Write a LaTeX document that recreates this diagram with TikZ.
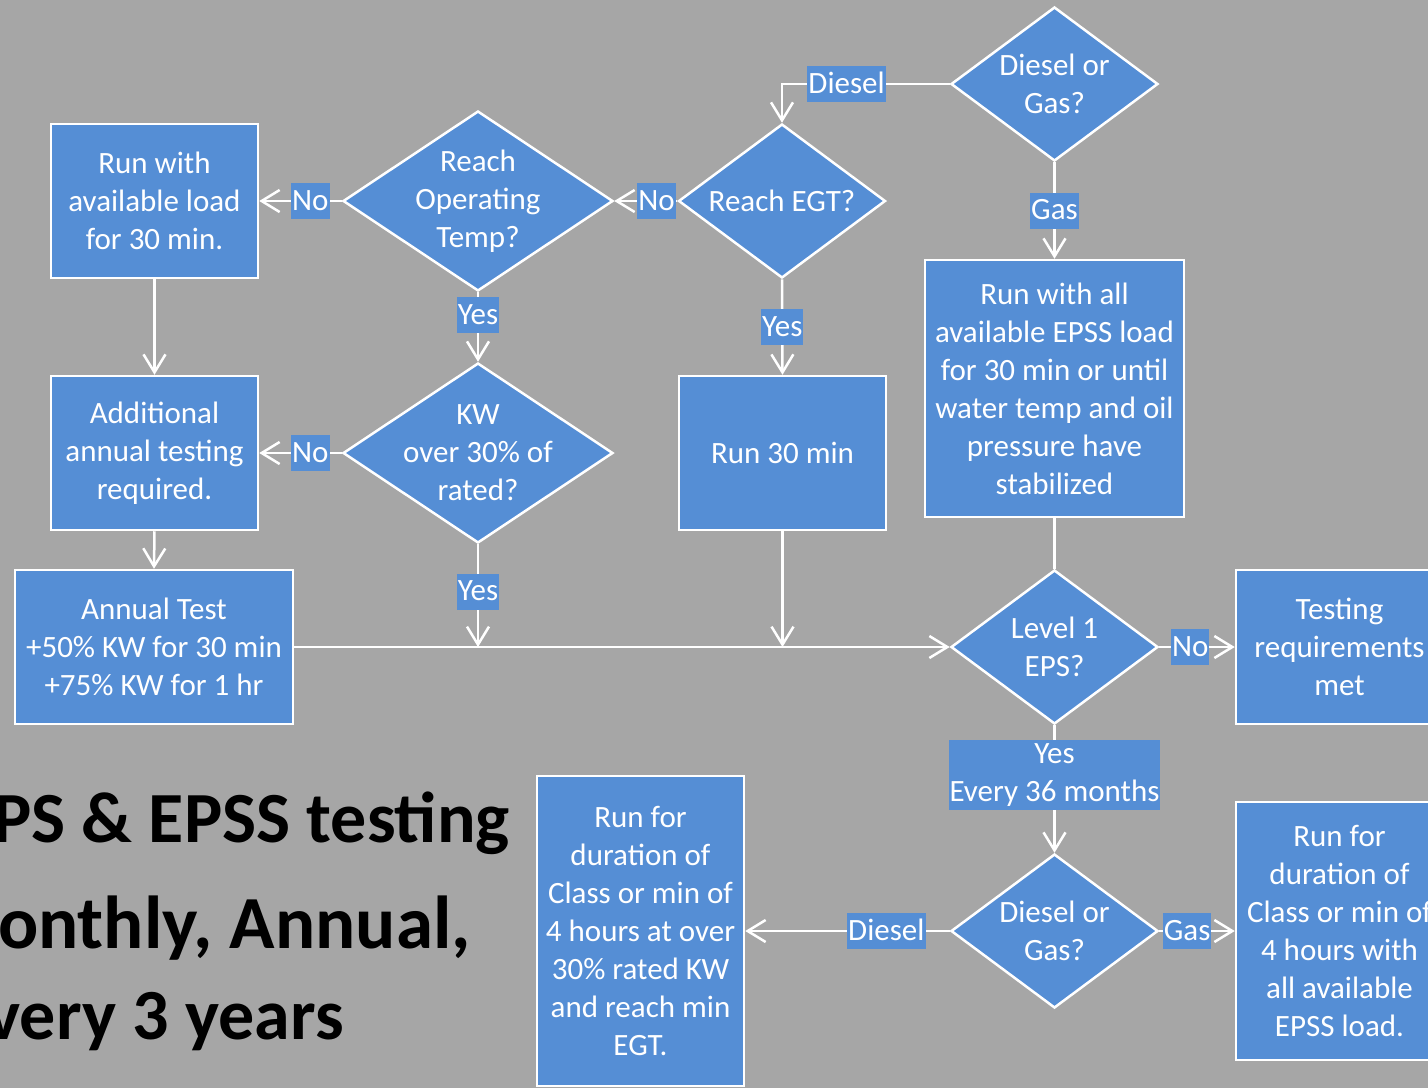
\documentclass[tikz,border=0pt]{standalone}
\usepackage{fontspec}
\setmainfont{Carlito}
\usepackage{xcolor}
\usepackage{tikz}
\usetikzlibrary{shapes.geometric,arrows.meta}
\definecolor{bggray}{HTML}{A6A6A6}
\definecolor{boxblue}{HTML}{558ED5}
\tikzset{
    txt/.style={text=white,align=center,font=\fontsize{31}{38}\selectfont},
    box/.style={txt,draw=white,line width=2.5pt,fill=boxblue,inner sep=0pt},
    dia/.style={diamond,draw=white,line width=2.5pt,fill=boxblue,inner sep=0pt},
    lab/.style={fill=boxblue,text=white,inner xsep=1pt,inner ysep=2pt,text height=25pt,text depth=7pt,font=\fontsize{31}{38}\selectfont},
    lab2/.style={txt,fill=boxblue,inner xsep=1pt,inner ysep=4pt},
    arr/.style={draw=white,line width=2.5pt,-{Straight Barb[length=18pt,width=22pt]}},
    plain/.style={draw=white,line width=2.5pt},
    title/.style={font=\fontsize{72}{86}\selectfont\bfseries,inner sep=0pt,anchor=base east}
}
\begin{document}
\begin{tikzpicture}[x=1pt,y=-1pt]
    \useasboundingbox (0,0) rectangle (1428,1088);
    \clip (0,0) rectangle (1428,1088);
    \fill[bggray] (0,0) rectangle (1428,1088);

    \node[box,minimum width=207,minimum height=154] (run1) at (154.5,201) {Run with\\available load\\for 30 min.};
    \node[dia,minimum width=270,minimum height=180,label={[txt]center:{Reach\\Operating\\Temp?}}] (rot) at (478,201) {};
    \node[dia,minimum width=207,minimum height=154,label={[txt]center:{Reach EGT?}}] (egt) at (782,201) {};
    \node[dia,minimum width=207,minimum height=154,label={[txt]center:{Diesel or\\Gas?}}] (dg1) at (1054.5,84) {};
    \node[box,minimum width=259,minimum height=257] (epss) at (1054.5,388.5) {Run with all\\available EPSS load\\for 30 min or until\\water temp and oil\\pressure have\\stabilized};
    \node[box,minimum width=207,minimum height=154] (addl) at (154.5,453) {Additional\\annual testing\\required.};
    \node[dia,minimum width=270,minimum height=180,label={[txt]center:{KW\\over 30\% of\\rated?}}] (kw) at (478,453) {};
    \node[box,minimum width=207,minimum height=154] (run30) at (782.5,453) {Run 30 min};
    \node[box,minimum width=278,minimum height=154] (annual) at (154,647) {Annual Test\\+50\% KW for 30 min\\+75\% KW for 1 hr};
    \node[dia,minimum width=207,minimum height=154,label={[txt]center:{Level 1\\EPS?}}] (lvl1) at (1054.5,647) {};
    \node[box,minimum width=207,minimum height=154] (met) at (1339.5,647) {Testing\\requirements\\met};
    \node[box,minimum width=207,minimum height=310] (dieselrun) at (640.5,931) {Run for\\duration of\\Class or min of\\4 hours at over\\30\% rated KW\\and reach min\\EGT.};
    \node[dia,minimum width=207,minimum height=154,label={[txt]center:{Diesel or\\Gas?}}] (dg2) at (1054.5,931) {};
    \node[box,minimum width=207,minimum height=258] (gasrun) at (1339.5,931) {Run for\\duration of\\Class or min of\\4 hours with\\all available\\EPSS load.};

    \draw[arr] (dg1.west) -- node[lab,pos=.615]{Diesel} (dg1.west -| egt.north) -- (egt.north);
    \draw[arr] (dg1.south) -- node[lab]{Gas} (epss.north);
    \draw[arr] (egt.west) -- node[lab,pos=.33]{No} (rot.east);
    \draw[arr] (rot.west) -- node[lab,pos=.38]{No} (run1.east);
    \draw[arr] (egt.south) -- node[lab]{Yes} (run30.north);
    \draw[arr] (rot.south) -- node[lab,pos=.33]{Yes} (kw.north);
    \draw[arr] (kw.west) -- node[lab,pos=.38]{No} (addl.east);
    \draw[arr] (run1.south) -- (addl.north);
    \draw[arr] (addl.south) -- (annual.north);
    \draw[arr] (kw.south) -- node[lab,pos=.46]{Yes} (kw.south |- annual.east);
    \draw[arr] (run30.south) -- (run30.south |- annual.east);
    \draw[arr] (annual.east) -- (lvl1.west);
    \draw[plain] (epss.south) -- (lvl1.north);
    \draw[arr] (lvl1.east) -- node[lab,pos=.41]{No} (met.west);
    \draw[arr] (lvl1.south) -- node[lab2,pos=.39]{Yes\\Every 36 months} (dg2.north);
    \draw[arr] (dg2.west) -- node[lab,pos=.31]{Diesel} (dieselrun.east);
    \draw[arr] (dg2.east) -- node[lab,pos=.37]{Gas} (gasrun.west);

    \node[title] (t1) at (510,842) {EPS \& EPSS testing};
    \node[title,font=\fontsize{75}{86}\selectfont\bfseries] (t2) at (471,948) {Monthly, Annual,};
    \node[title] (t3) at (344,1039) {Every 3 years};
\end{tikzpicture}
\end{document}
